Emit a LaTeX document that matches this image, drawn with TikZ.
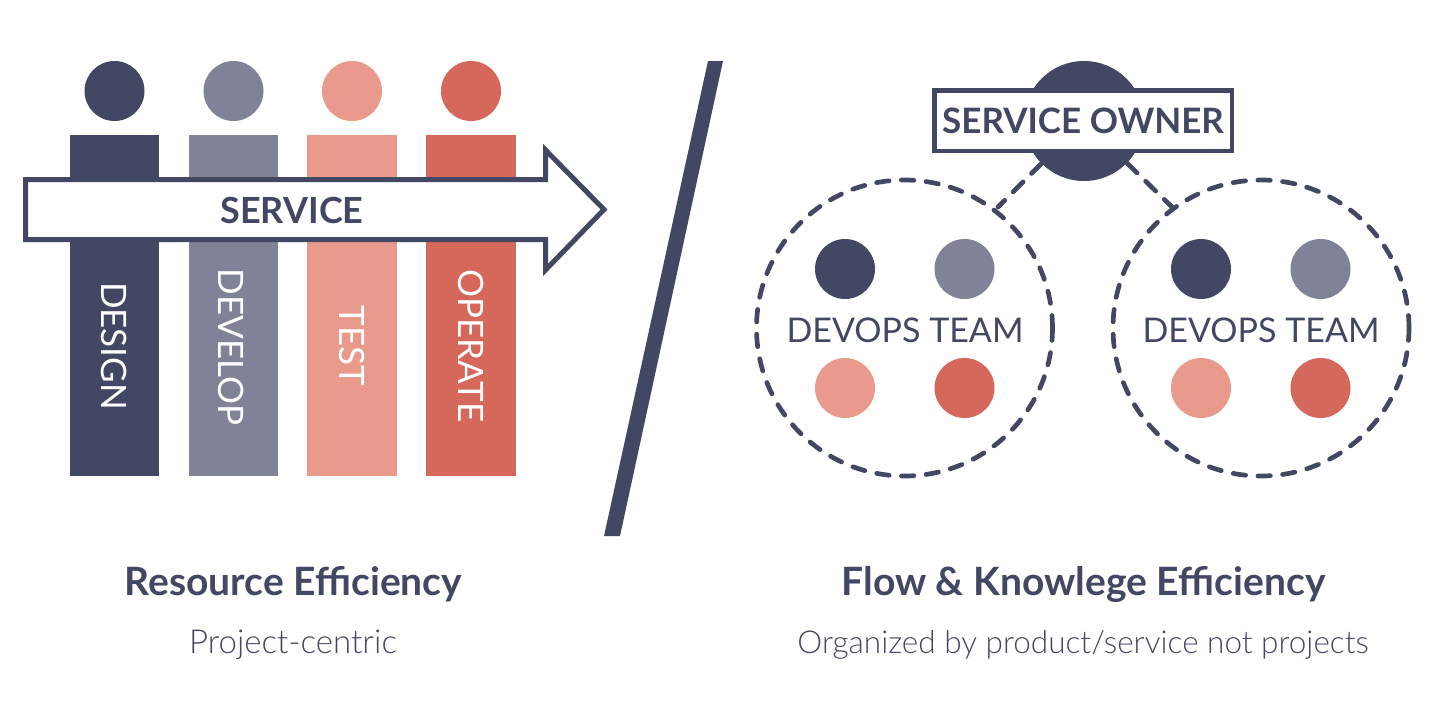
\documentclass[tikz,border=0pt]{standalone}
\usepackage{fontspec}
\setmainfont{Lato}
\newfontfamily\lite{Lato Light}
\newfontfamily\bld{Lato Bold}
\definecolor{navy}{HTML}{424863}
\definecolor{slate}{HTML}{808297}
\definecolor{salmon}{HTML}{E99A8D}
\definecolor{coral}{HTML}{D6675B}
\tikzset{
  bar/.style={draw=none,minimum width=89.5pt,minimum height=341pt,inner sep=0pt},
  head/.style={circle,draw=none,minimum size=60pt,inner sep=0pt},
  barlabel/.style={rotate=-90,text=white,inner sep=0pt,font=\fontsize{35}{36}\selectfont},
  teamlabel/.style={text=navy,inner sep=0pt,font=\fontsize{34}{36}\selectfont},
  team/.style={circle,draw=navy,line width=4.7pt,dash pattern=on 12.5pt off 12.3pt,line cap=round,minimum size=296pt,inner sep=0pt},
  link/.style={draw=navy,line width=4.7pt,dash pattern=on 14pt off 12pt,line cap=round},
  title/.style={text=navy,inner sep=0pt,font=\bld\fontsize{39}{42}\selectfont},
  sub/.style={text=navy,inner sep=0pt,font=\lite\fontsize{31.5}{34}\selectfont},
}
\begin{document}
\begin{tikzpicture}[x=1pt,y=-1pt]
\useasboundingbox (0,0) rectangle (1448,724);
% left: bars
\foreach \n/\x/\c in {a/114.5/navy,b/233.5/slate,c/352/salmon,d/471/coral}{
  \node[bar,fill=\c] (bar\n) at (\x,305.5) {};
  \node[head,fill=\c] (head\n) at (\x,91) {};
}
\node[barlabel] (ldesign) at (114.5,346) {DESIGN};
\node[barlabel] (ldevelop) at (231.5,347) {DEVELOP};
\node[barlabel] (ltest) at (352,346) {TEST};
\node[barlabel] (loperate) at (471.5,346) {OPERATE};
% arrow
\draw[navy,line width=5pt,fill=white,miter limit=10]
  (25.5,179.5) -- (545.5,179.5) -- (545.5,150) -- (604,209.5) -- (545.5,270) -- (545.5,239.5) -- (25.5,239.5) -- cycle;
\node[text=navy,inner sep=0pt,font=\bld\fontsize{36}{36}\selectfont] (lservice) at (292,210) {SERVICE};
% slash
\fill[navy] (708,61) -- (723,61) -- (620,536) -- (604,536) -- cycle;
% right
\node[circle,fill=navy,minimum size=120pt,inner sep=0pt] (owner) at (1084,121) {};
\node[team] (t1) at (904.5,328) {};
\node[team] (t2) at (1261,328) {};
\coordinate (l1) at (998,207);
\coordinate (l2) at (1172,207);
\draw[link] (owner) -- (l1);
\draw[link] (owner) -- (l2);
\node[draw=navy,fill=white,line width=4.5pt,minimum width=297.5pt,minimum height=60.5pt,inner sep=0pt,text=navy,font=\bld\fontsize{35}{36}\selectfont] (ownerbox) at (1083,120.5) {SERVICE OWNER};
\foreach \k/\cx in {p/905,q/1261}{
  \node[head,fill=navy] (\k a) at (\cx-60,269) {};
  \node[head,fill=slate] (\k b) at (\cx+59.5,269) {};
  \node[head,fill=salmon] (\k c) at (\cx-60,388) {};
  \node[head,fill=coral] (\k d) at (\cx+59.5,388) {};
  \node[teamlabel] (\k l) at (\cx,330) {DEVOPS TEAM};
}
% captions
\node[title] (c1) at (293.5,584) {Resource Efficiency};
\node[sub,font=\lite\fontsize{33}{34}\selectfont] (c2) at (293,645) {Project-centric};
\node[title] (c3) at (1083.5,584) {Flow \& Knowlege Efficiency};
\node[sub] (c4) at (1083,645) {Organized by product/service not projects};
\end{tikzpicture}
\end{document}
